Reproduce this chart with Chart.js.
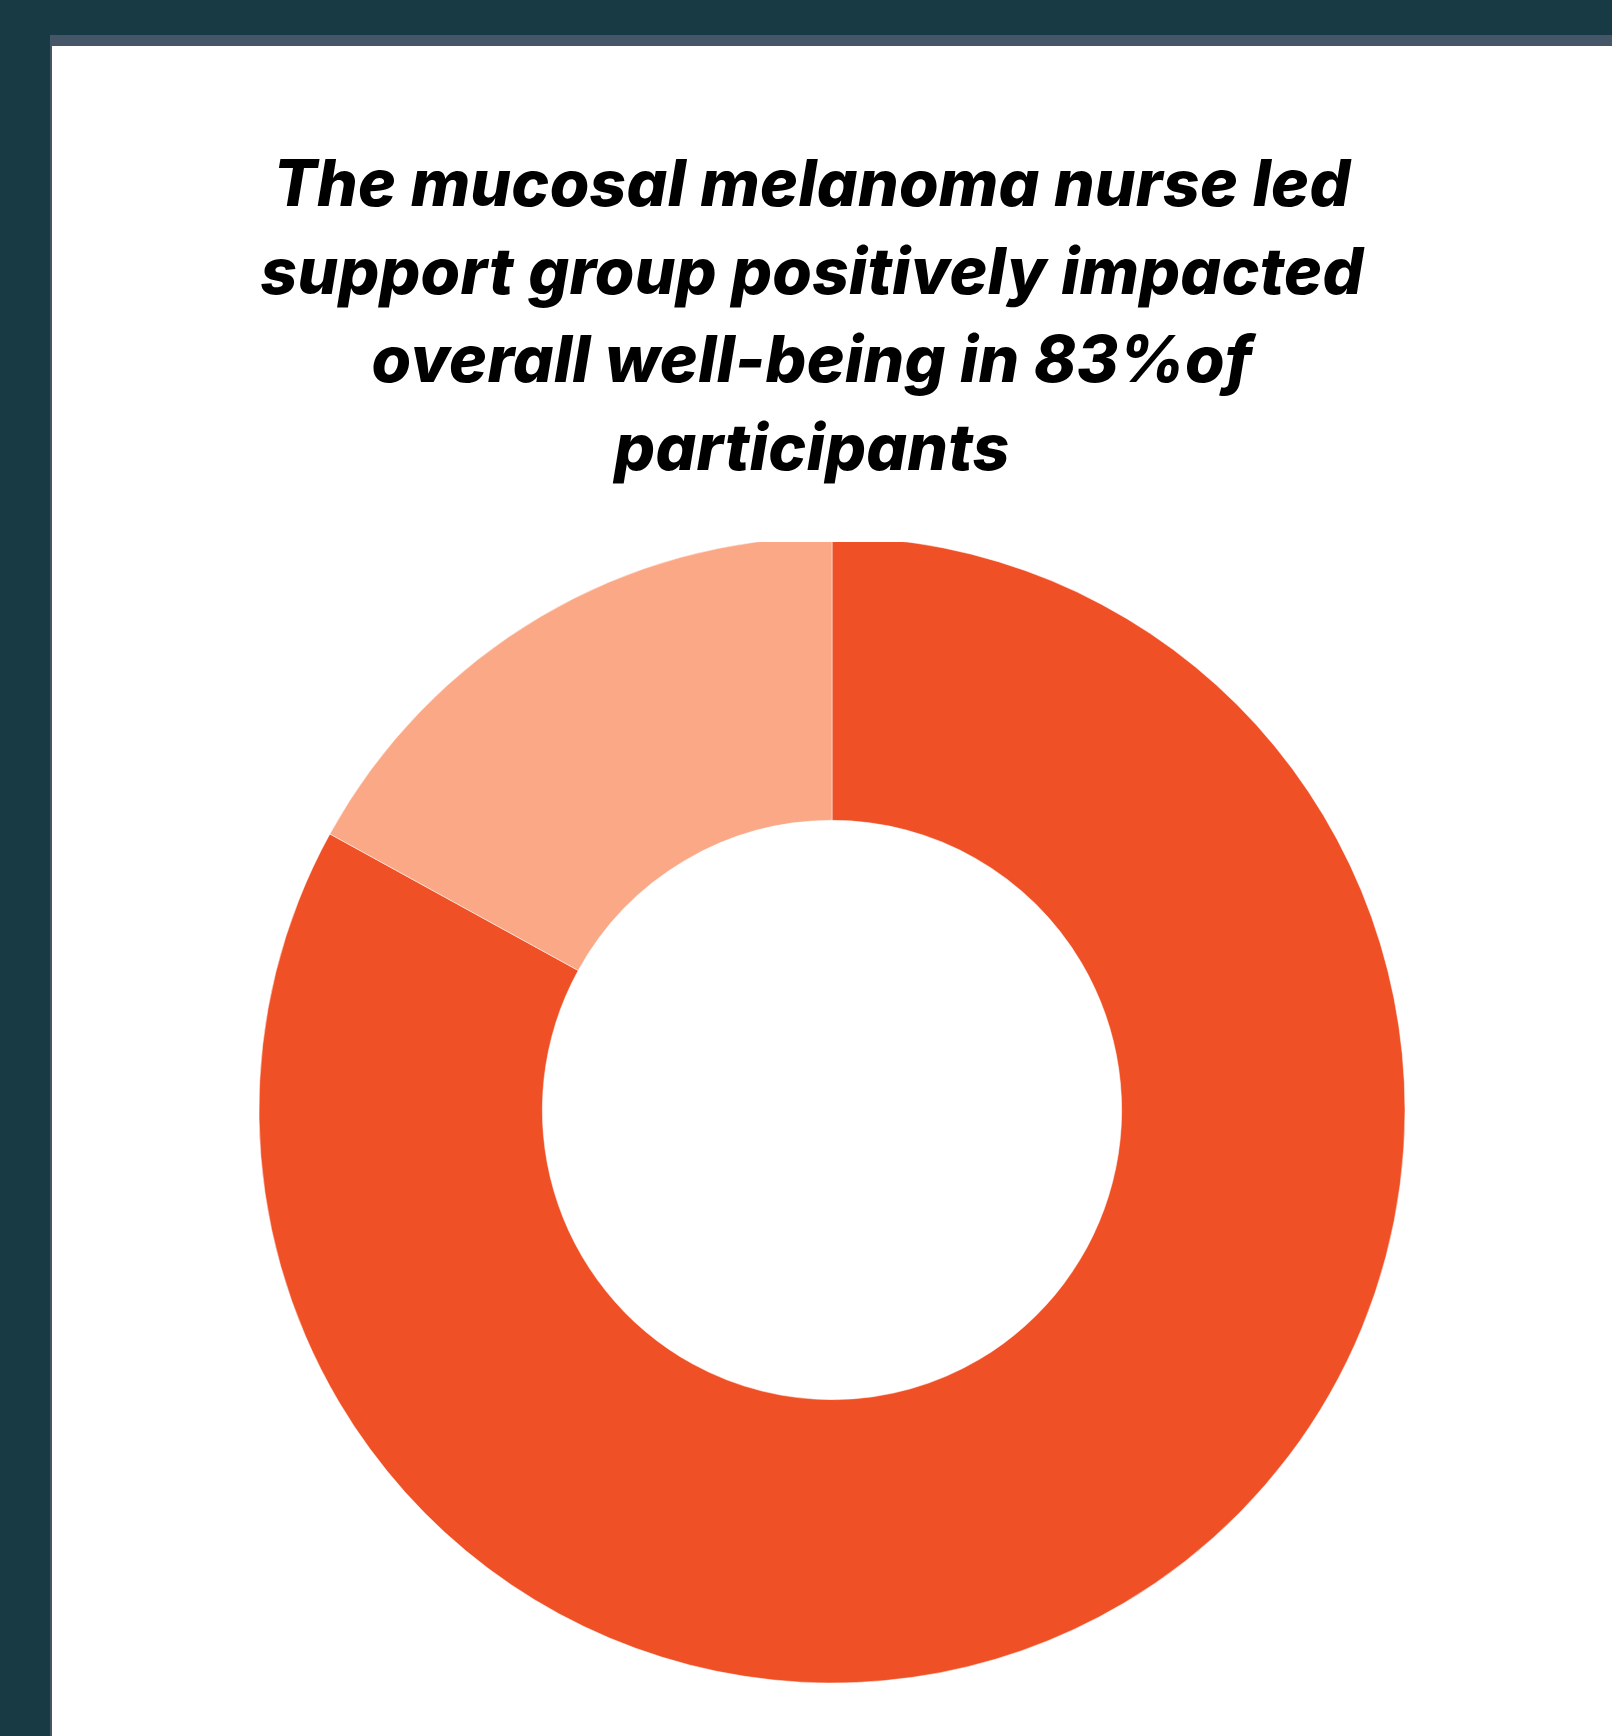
<!DOCTYPE html>
<html>
<head>
<meta charset="utf-8">
<script src="https://cdn.jsdelivr.net/npm/chart.js@4"></script>
<style>
  html, body { margin: 0; padding: 0; }
  body {
    width: 1612px;
    height: 1736px;
    background: #173a44;
    position: relative;
    overflow: hidden;
  }
  .panel {
    position: absolute;
    left: 50px;
    top: 35px;
    right: 0;
    bottom: 0;
    background: #465669;
  }
  .inner {
    position: absolute;
    left: 52px;
    top: 46px;
    right: 0;
    bottom: 0;
    background: #ffffff;
  }
  #title {
    position: absolute;
    left: 52px;
    width: 1520px;
    top: 139px;
    text-align: center;
    font-family: Inter, Lato, "Noto Sans", sans-serif;
    font-weight: 800;
    font-style: italic;
    font-size: 64px;
    line-height: 88px;
    letter-spacing: 0.3px;
    color: #000;
  }
  #wrap {
    position: absolute;
    left: 52px;
    top: 542px;
    width: 1560px;
    height: 1194px;
  }
</style>
</head>
<body>
<div class="panel"></div>
<div class="inner"></div>
<div id="title">The mucosal melanoma nurse led<br>support group positively impacted<br>overall well-being in 83%of<br>participants</div>
<div id="wrap"><canvas id="chart"></canvas></div>
<script>
const categories = ['Positively impacted', 'Not impacted'];
const values = [83, 17];
const colors = ['#f05025', '#fba886'];

document.addEventListener('DOMContentLoaded', function() {
    const canvas = document.getElementById('chart');

    new Chart(canvas, {
        type: 'doughnut',
        data: {
            labels: categories,
            datasets: [{
                data: values,
                backgroundColor: colors,
                borderColor: '#ffffff',
                borderWidth: 0.5,
                clip: false
            }]
        },
        options: {
            responsive: true,
            maintainAspectRatio: false,
            animation: false,
            radius: 573,
            cutout: 287,
            layout: {
                padding: { top: 0, bottom: 58, left: 0, right: 0 }
            },
            plugins: {
                legend: { display: false },
                tooltip: { enabled: false }
            }
        }
    });
});
</script>
</body>
</html>
